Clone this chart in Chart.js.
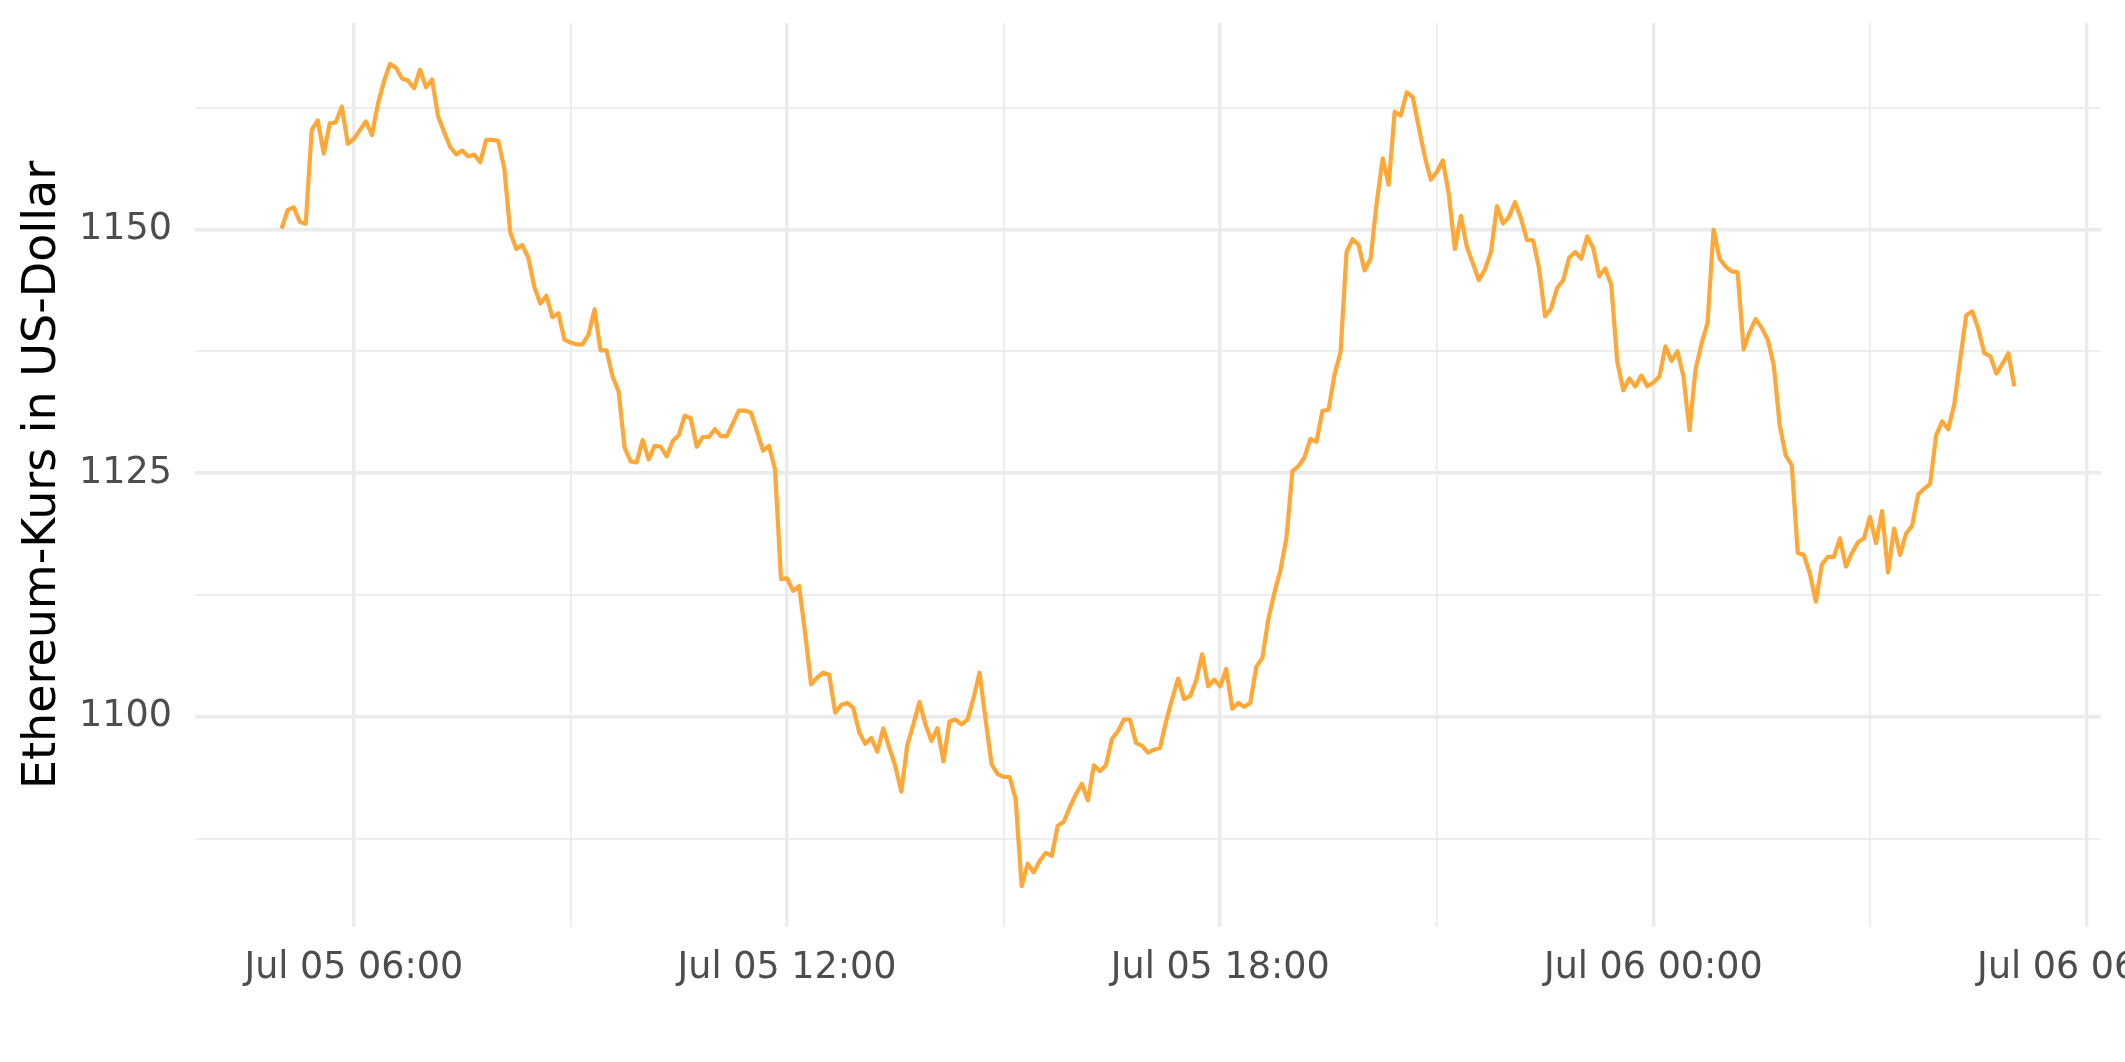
<!DOCTYPE html>
<html>
<head>
<meta charset="utf-8">
<script src="https://cdn.jsdelivr.net/npm/chart.js@4.4.1/dist/chart.umd.min.js"></script>
<style>
  html, body { margin: 0; padding: 0; background: #fff; }
  #wrap { width: 2125px; height: 1062px; }
</style>
</head>
<body>
<div id="wrap"><canvas id="chart" width="2125" height="1062"></canvas></div>
<script>
// hours since Jul 05 00:00, one sample every 5 minutes
const startHour = 5;
const stepMinutes = 5;

const ethPrice = [
  1150.1, 1152.0, 1152.3, 1150.8, 1150.6, 1160.2, 1161.2, 1157.8, 1160.9, 1161.0, 1162.6, 1158.8, // 05
  1159.3, 1160.2, 1161.1, 1159.7, 1162.9, 1165.2, 1167.0, 1166.6, 1165.5, 1165.3, 1164.5, 1166.4, // 06
  1164.6, 1165.4, 1161.6, 1160.0, 1158.5, 1157.7, 1158.1, 1157.5, 1157.7, 1156.9, 1159.2, 1159.2, // 07
  1159.1, 1156.3, 1149.7, 1148.0, 1148.4, 1147.1, 1144.1, 1142.4, 1143.2, 1141.0, 1141.4, 1138.7, // 08
  1138.4, 1138.2, 1138.2, 1139.2, 1141.8, 1137.6, 1137.6, 1134.9, 1133.4, 1127.6, 1126.2, 1126.1, // 09
  1128.4, 1126.4, 1127.8, 1127.7, 1126.7, 1128.3, 1128.9, 1130.9, 1130.6, 1127.7, 1128.7, 1128.7, // 10
  1129.5, 1128.8, 1128.8, 1130.1, 1131.4, 1131.4, 1131.2, 1129.3, 1127.3, 1127.8, 1125.4, 1114.1, // 11
  1114.2, 1112.9, 1113.4, 1108.6, 1103.3, 1104.0, 1104.5, 1104.3, 1100.4, 1101.2, 1101.4, 1100.9, // 12
  1098.4, 1097.2, 1097.8, 1096.4, 1098.8, 1096.8, 1094.9, 1092.3, 1097.1, 1099.2, 1101.5, 1099.2, // 13
  1097.5, 1098.8, 1095.4, 1099.5, 1099.7, 1099.2, 1099.7, 1101.9, 1104.5, 1099.7, 1095.1, 1094.1, // 14
  1093.8, 1093.8, 1091.5, 1082.6, 1084.9, 1084.0, 1085.2, 1086.0, 1085.7, 1088.8, 1089.2, 1090.7, // 15
  1092.0, 1093.1, 1091.4, 1095.0, 1094.4, 1095.0, 1097.7, 1098.5, 1099.7, 1099.7, 1097.3, 1097.0, // 16
  1096.3, 1096.6, 1096.8, 1099.5, 1101.8, 1103.9, 1101.8, 1102.1, 1103.7, 1106.4, 1103.1, 1103.8, // 17
  1103.1, 1104.9, 1100.8, 1101.4, 1101.0, 1101.4, 1105.1, 1106.0, 1110.0, 1112.7, 1115.0, 1118.3, // 18
  1125.2, 1125.7, 1126.6, 1128.5, 1128.2, 1131.4, 1131.5, 1135.1, 1137.4, 1147.7, 1149.0, 1148.4, // 19
  1145.8, 1147.0, 1152.7, 1157.3, 1154.6, 1162.1, 1161.7, 1164.1, 1163.6, 1160.5, 1157.5, 1155.1, // 20
  1155.9, 1157.1, 1153.6, 1148.0, 1151.4, 1148.2, 1146.5, 1144.8, 1145.9, 1147.7, 1152.4, 1150.6, // 21
  1151.3, 1152.8, 1151.1, 1148.9, 1148.9, 1146.0, 1141.1, 1141.9, 1144.0, 1144.8, 1147.1, 1147.7, // 22
  1147.0, 1149.3, 1148.1, 1145.2, 1146.0, 1144.3, 1136.4, 1133.5, 1134.7, 1133.9, 1135.0, 1133.9, // 23
  1134.3, 1134.9, 1138.0, 1136.5, 1137.5, 1134.9, 1129.4, 1135.6, 1138.3, 1140.4, 1150.0, 1147.0, // 00
  1146.2, 1145.7, 1145.6, 1137.7, 1139.5, 1140.8, 1139.9, 1138.7, 1136.1, 1129.9, 1126.8, 1125.8, // 01
  1116.8, 1116.6, 1114.7, 1111.8, 1115.6, 1116.4, 1116.4, 1118.3, 1115.4, 1116.8, 1117.9, 1118.3, // 02
  1120.5, 1117.8, 1121.1, 1114.8, 1119.3, 1116.6, 1118.8, 1119.6, 1122.8, 1123.4, 1123.9, 1128.9, // 03
  1130.3, 1129.5, 1132.0, 1136.7, 1141.2, 1141.6, 1139.8, 1137.3, 1137.0, 1135.2, 1136.2, 1137.3, // 04
  1133.9                                                                                           // 05
];

const xTickHours = [6, 12, 18, 24, 30];
const xTickLabels = ["Jul 05 06:00", "Jul 05 12:00", "Jul 05 18:00", "Jul 06 00:00", "Jul 06 06:00"];
const xMinorHours = [9, 15, 21, 27];
const yTickValues = [1100, 1125, 1150];
const yMinorValues = [1087.5, 1112.5, 1137.5, 1162.5];

const points = ethPrice.map((v, i) => ({ x: startHour + i * stepMinutes / 60, y: v }));

const GRID = "#ebebeb";
const FONT = "DejaVu Sans";

new Chart(document.getElementById("chart"), {
  type: "line",
  data: {
    datasets: [{
      data: points,
      borderColor: "#ffa737",
      borderWidth: 4.2,
      borderJoinStyle: "round",
      pointRadius: 0,
      tension: 0,
      fill: false
    }]
  },
  options: {
    responsive: false,
    animation: false,
    devicePixelRatio: 1,
    layout: { padding: { left: 0, right: 24, top: 23, bottom: 0 } },
    plugins: { legend: { display: false }, tooltip: { enabled: false } },
    scales: {
      x: {
        type: "linear",
        min: 3.8,
        max: 30.2,
        afterBuildTicks: (scale) => {
          scale.ticks = xTickHours.concat(xMinorHours).sort((a, b) => a - b).map(v => ({ value: v }));
        },
        afterFit: (scale) => {
          scale.height = 135;
          scale.paddingLeft = 0;
          scale.paddingRight = 0;
        },
        border: { display: false },
        grid: {
          color: GRID,
          drawTicks: false,
          lineWidth: (ctx) => (ctx.tick && xTickHours.includes(ctx.tick.value) ? 3.4 : 1.7)
        },
        ticks: {
          autoSkip: false,
          maxRotation: 0,
          padding: 20,
          color: "#4d4d4d",
          font: { family: FONT, size: 36.5 },
          callback: (value) => {
            const i = xTickHours.indexOf(value);
            return i >= 0 ? xTickLabels[i] : "";
          }
        }
      },
      y: {
        type: "linear",
        min: 1078.4,
        max: 1171.2,
        afterBuildTicks: (scale) => {
          scale.ticks = yTickValues.concat(yMinorValues).sort((a, b) => a - b).map(v => ({ value: v }));
        },
        afterFit: (scale) => {
          scale.width = 195;
          scale.paddingTop = 0;
          scale.paddingBottom = 0;
        },
        border: { display: false },
        grid: {
          color: GRID,
          drawTicks: false,
          lineWidth: (ctx) => (ctx.tick && yTickValues.includes(ctx.tick.value) ? 3.4 : 1.7)
        },
        ticks: {
          padding: 23,
          color: "#4d4d4d",
          font: { family: FONT, size: 36.5 },
          callback: (value) => (yTickValues.includes(value) ? String(value) : "")
        },
        title: {
          display: true,
          text: "Ethereum-Kurs in US-Dollar",
          color: "#000000",
          font: { family: FONT, size: 46 },
          padding: { top: 15, bottom: 0 }
        }
      }
    }
  }
});
</script>
</body>
</html>
